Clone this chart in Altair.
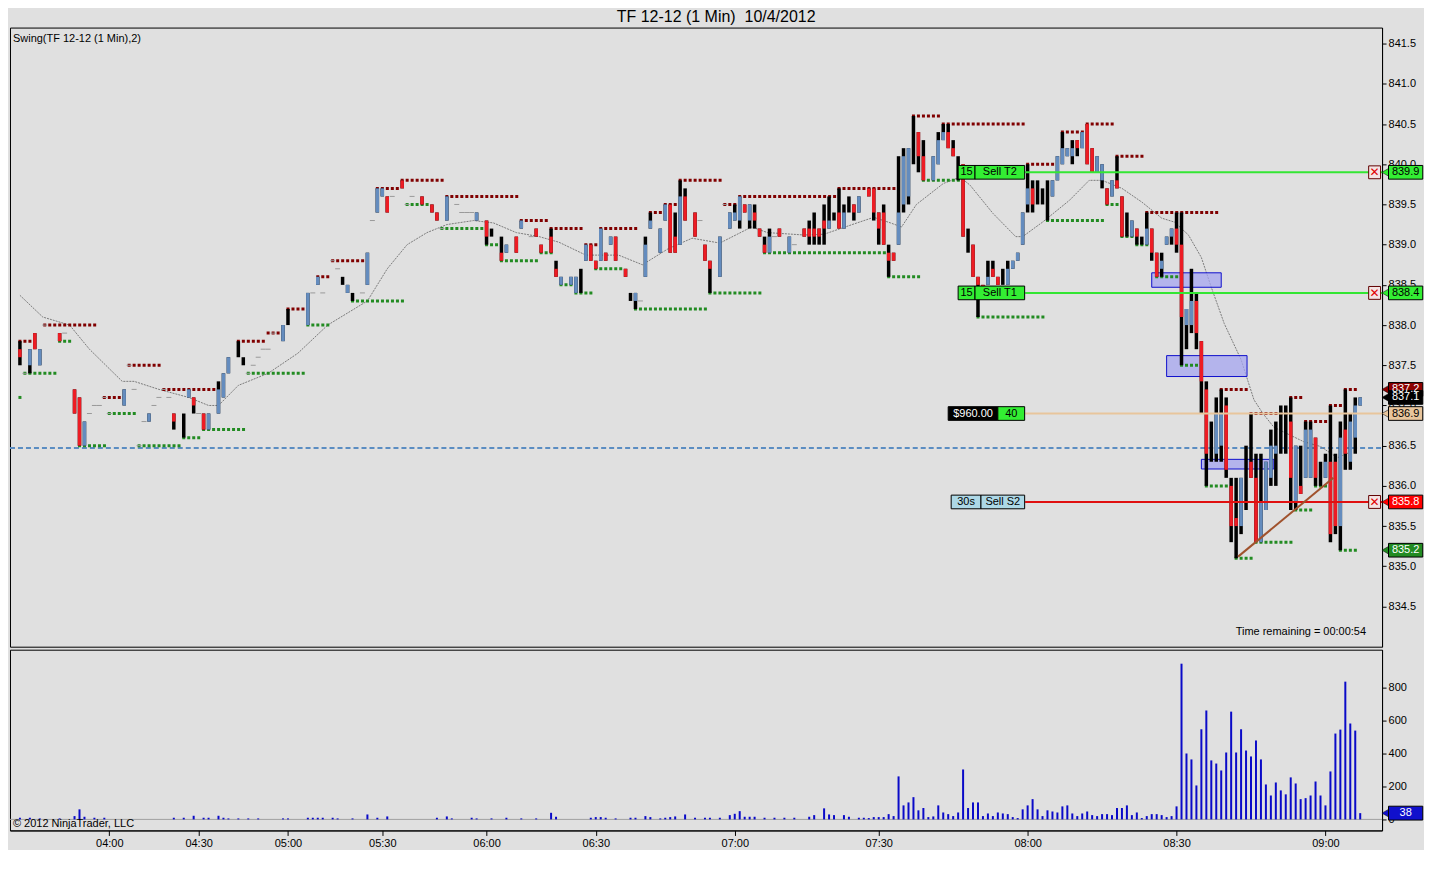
import altair as alt
import pandas as pd

# ---------------- data ----------------
# candles: (bar index, open, high, low, close)
bars_early = [
    (0, 837.7, 837.8, 837.5, 837.6), (2, 837.5, 837.7, 837.4, 837.7), (3, 837.9, 837.9, 837.7, 837.7),
    (4, 837.5, 837.7, 837.5, 837.7), (8, 837.9, 837.9, 837.8, 837.8), (11, 837.2, 837.2, 836.9, 836.9),
    (12, 837.1, 837.1, 836.5, 836.5), (13, 836.5, 836.8, 836.5, 836.8), (21, 837.0, 837.2, 837.0, 837.2),
    (26, 836.8, 836.9, 836.8, 836.9), (31, 836.9, 836.9, 836.7, 836.8), (33, 836.7, 836.9, 836.6, 836.7),
    (34, 837.1, 837.2, 837.1, 837.2), (35, 837.1, 837.1, 836.9, 837.0), (37, 836.9, 836.9, 836.7, 836.7),
    (38, 836.7, 836.9, 836.7, 836.9), (40, 836.9, 837.3, 836.9, 837.2), (41, 837.1, 837.4, 837.1, 837.4),
    (42, 837.4, 837.6, 837.4, 837.6), (44, 837.7, 837.8, 837.6, 837.7), (45, 837.5, 837.6, 837.5, 837.5),
    (53, 837.8, 838.0, 837.8, 838.0), (54, 838.1, 838.2, 838.0, 838.1), (58, 838.0, 838.4, 838.0, 838.4),
    (60, 838.5, 838.6, 838.5, 838.6),
]
bars_0530 = [
    (65, 838.6, 838.6, 838.5, 838.6), (66, 838.4, 838.5, 838.4, 838.5), (67, 838.4, 838.4, 838.3, 838.4),
    (70, 838.5, 838.9, 838.5, 838.9), (72, 839.4, 839.7, 839.4, 839.7), (73, 839.6, 839.7, 839.6, 839.7),
    (74, 839.6, 839.6, 839.4, 839.4), (77, 839.8, 839.8, 839.7, 839.7), (81, 839.6, 839.6, 839.5, 839.5),
    (83, 839.5, 839.5, 839.4, 839.4), (84, 839.4, 839.4, 839.3, 839.3), (86, 839.3, 839.6, 839.3, 839.6),
    (92, 839.3, 839.4, 839.3, 839.4), (94, 839.3, 839.3, 839.0, 839.1), (95, 839.2, 839.2, 839.1, 839.2),
    (97, 838.9, 839.1, 838.8, 838.8), (98, 838.9, 839.0, 838.9, 839.0), (100, 839.1, 839.1, 838.9, 838.9),
    (101, 839.2, 839.3, 839.2, 839.3), (104, 839.2, 839.2, 839.1, 839.1), (105, 839.0, 839.0, 838.9, 838.9),
    (107, 839.1, 839.2, 838.9, 838.9), (108, 838.7, 838.8, 838.6, 838.6), (109, 838.5, 838.6, 838.5, 838.6),
    (111, 838.5, 838.6, 838.5, 838.6), (112, 838.4, 838.6, 838.4, 838.6), (113, 838.5, 838.7, 838.4, 838.5),
    (114, 838.8, 839.0, 838.8, 839.0), (115, 839.0, 839.0, 838.8, 838.8), (116, 838.8, 838.8, 838.7, 838.7),
    (117, 838.8, 839.2, 838.8, 839.2), (118, 838.9, 838.9, 838.8, 838.8), (119, 839.0, 839.1, 839.0, 839.1),
    (120, 839.1, 839.1, 838.8, 838.8), (122, 838.7, 838.7, 838.6, 838.6), (123, 838.4, 838.4, 838.3, 838.4),
    (124, 838.3, 838.4, 838.2, 838.4),
]
bars_0700 = [
    (126, 838.6, 839.1, 838.6, 839.0), (127, 839.2, 839.4, 839.2, 839.3), (129, 838.9, 839.2, 838.9, 839.2),
    (130, 839.3, 839.5, 839.3, 839.5), (131, 839.5, 839.5, 838.9, 838.9), (132, 839.1, 839.4, 838.9, 838.9),
    (133, 839.0, 839.8, 839.0, 839.6), (134, 839.6, 839.7, 839.3, 839.3), (136, 839.4, 839.4, 839.1, 839.1),
    (138, 839.0, 839.0, 838.8, 838.8), (139, 838.8, 838.8, 838.4, 838.7), (141, 838.6, 839.1, 838.6, 839.1),
    (143, 839.2, 839.4, 839.2, 839.4), (144, 839.3, 839.5, 839.3, 839.4), (145, 839.3, 839.6, 839.2, 839.6),
    (146, 839.5, 839.5, 839.4, 839.4), (147, 839.3, 839.5, 839.2, 839.5), (148, 839.4, 839.5, 839.2, 839.3),
    (149, 839.2, 839.2, 839.1, 839.1), (150, 839.0, 839.1, 838.9, 838.9), (151, 838.9, 839.2, 838.9, 839.1),
    (153, 839.2, 839.2, 839.1, 839.1), (155, 838.9, 839.1, 838.9, 839.1), (158, 839.2, 839.2, 839.1, 839.1),
    (159, 839.2, 839.3, 839.0, 839.1), (160, 839.2, 839.4, 839.0, 839.1), (161, 839.2, 839.2, 839.0, 839.1),
    (162, 839.3, 839.5, 839.0, 839.2), (163, 839.2, 839.6, 839.2, 839.3), (164, 839.4, 839.4, 839.3, 839.4),
    (165, 839.4, 839.7, 839.2, 839.2), (166, 839.2, 839.5, 839.2, 839.4), (167, 839.5, 839.6, 839.4, 839.5),
    (168, 839.5, 839.5, 839.3, 839.4), (169, 839.4, 839.6, 839.4, 839.6), (171, 839.7, 839.7, 839.6, 839.6),
    (172, 839.7, 839.7, 839.3, 839.4), (173, 839.4, 839.4, 839.0, 839.2), (174, 839.4, 839.5, 839.0, 839.0),
    (175, 838.9, 839.0, 838.6, 838.8), (176, 838.9, 838.9, 838.8, 838.8), (177, 839.0, 840.1, 839.0, 839.4),
]
bars_0730 = [
    (178, 839.5, 840.2, 839.4, 840.1), (179, 839.6, 840.2, 839.5, 840.2), (180, 840.2, 840.6, 840.0, 840.2),
    (181, 840.4, 840.4, 839.9, 840.1), (182, 840.1, 840.3, 839.8, 839.8), (184, 839.8, 840.1, 839.8, 840.1),
    (185, 840.0, 840.4, 840.0, 840.3), (186, 840.3, 840.5, 840.3, 840.4), (187, 840.4, 840.5, 840.2, 840.2),
    (188, 840.2, 840.3, 840.1, 840.1), (189, 840.0, 840.1, 839.8, 840.0), (190, 840.0, 840.0, 839.1, 839.1),
    (191, 839.1, 839.2, 838.9, 839.1), (192, 839.0, 839.0, 838.6, 838.6), (193, 838.6, 838.6, 838.1, 838.5),
    (194, 838.5, 838.5, 838.4, 838.4), (195, 838.5, 838.8, 838.5, 838.6), (196, 838.7, 838.8, 838.6, 838.6),
    (197, 838.6, 838.6, 838.5, 838.5), (198, 838.6, 838.7, 838.5, 838.6), (199, 838.5, 838.8, 838.5, 838.7),
    (200, 838.7, 838.8, 838.7, 838.8), (201, 838.8, 838.9, 838.8, 838.9), (202, 839.0, 839.4, 839.0, 839.4),
    (203, 839.5, 840.0, 839.4, 839.7), (204, 839.7, 839.8, 839.4, 839.5), (205, 839.6, 839.8, 839.5, 839.6),
    (206, 839.6, 839.7, 839.5, 839.6), (207, 839.5, 839.8, 839.3, 839.5), (208, 839.6, 839.8, 839.6, 839.8),
    (209, 839.8, 840.1, 839.8, 840.1), (210, 840.0, 840.4, 840.0, 840.2), (211, 840.1, 840.2, 840.1, 840.2),
    (212, 840.1, 840.3, 840.0, 840.2), (213, 840.3, 840.3, 840.1, 840.2), (214, 840.2, 840.4, 840.2, 840.4),
    (215, 840.5, 840.5, 840.0, 840.0), (216, 840.2, 840.2, 839.9, 839.9), (217, 839.9, 840.1, 839.9, 840.1),
    (218, 839.8, 840.0, 839.7, 840.0), (219, 839.7, 839.7, 839.5, 839.5), (220, 839.6, 839.8, 839.6, 839.8),
    (221, 839.8, 840.1, 839.7, 839.7), (222, 839.6, 839.6, 839.1, 839.1), (223, 839.3, 839.4, 839.1, 839.3),
    (224, 839.1, 839.3, 839.1, 839.3), (225, 839.2, 839.2, 839.0, 839.1), (226, 839.1, 839.1, 839.0, 839.1),
    (227, 839.0, 839.4, 839.0, 839.2), (228, 839.2, 839.2, 838.8, 838.9), (229, 838.9, 838.9, 838.6, 838.6),
    (230, 838.7, 838.9, 838.6, 838.8), (231, 839.0, 839.1, 839.0, 839.1), (232, 839.1, 839.2, 839.0, 839.2),
    (233, 839.2, 839.4, 838.9, 839.0), (234, 839.0, 839.4, 837.5, 838.1), (235, 838.0, 838.2, 837.7, 838.2),
    (236, 838.0, 838.7, 837.9, 838.3), (237, 838.3, 838.4, 837.7, 837.9),
]
bars_0830 = [
    (238, 837.8, 837.8, 836.9, 837.3), (239, 837.2, 837.3, 836.0, 836.4), (240, 836.6, 836.8, 836.3, 836.6),
    (241, 836.4, 837.1, 836.3, 836.9), (242, 836.5, 837.2, 836.3, 836.9), (243, 837.0, 837.1, 836.1, 836.2),
    (244, 836.0, 836.1, 835.3, 835.5), (245, 835.6, 836.1, 835.1, 835.5), (246, 835.5, 836.1, 835.4, 836.1),
    (247, 836.0, 836.5, 835.7, 836.0), (248, 836.3, 836.9, 836.1, 836.1), (249, 836.1, 836.4, 835.3, 835.3),
    (250, 835.3, 836.4, 835.3, 835.8), (251, 835.7, 836.3, 835.7, 836.3), (252, 836.1, 836.7, 836.0, 836.5),
    (253, 836.4, 836.8, 836.0, 836.5), (254, 836.7, 837.0, 836.4, 836.7), (255, 836.7, 837.0, 836.4, 836.7),
    (256, 836.8, 837.1, 835.7, 836.1), (257, 835.8, 836.5, 835.7, 836.5), (258, 836.0, 836.5, 835.9, 835.9),
    (259, 836.1, 836.8, 836.1, 836.7), (260, 836.1, 836.8, 836.1, 836.7), (261, 836.6, 836.6, 836.0, 836.1),
    (262, 836.2, 836.3, 836.0, 836.2), (263, 836.1, 836.4, 836.1, 836.3), (264, 836.3, 837.0, 835.3, 835.4),
    (265, 836.3, 836.4, 835.4, 835.5), (266, 835.5, 836.8, 835.2, 836.6), (267, 836.7, 837.2, 836.2, 836.4),
    (268, 836.3, 836.9, 836.2, 836.8), (269, 836.6, 837.1, 836.4, 837.0), (270, 837.0, 837.1, 837.0, 837.1),
]
# single-price bars (open = high = low = close)
doji_bars = [
    (1, 837.4), (5, 838.0), (9, 837.9), (14, 836.9), (15, 837.0), (16, 837.0), (17, 837.1), (18, 836.9),
    (22, 837.5), (23, 837.2), (24, 836.5), (25, 836.8), (27, 837.0), (28, 837.1), (29, 837.2), (30, 837.1),
    (36, 836.9), (46, 837.4), (47, 837.5), (48, 837.6), (49, 837.7), (50, 837.7), (51, 837.9), (59, 838.4),
    (61, 838.4), (63, 838.8), (64, 838.7), (69, 838.4), (71, 839.3), (75, 839.6), (78, 839.5), (79, 839.6),
    (85, 839.2), (88, 839.5), (89, 839.4), (90, 839.4), (91, 839.4), (103, 839.1), (125, 838.3),
    (137, 839.3), (142, 839.5), (152, 839.1), (156, 839.0),
]
# Swing(2) indicator: (first bar, last bar, price)
swing_high = [
    (0, 2, 837.8), (5, 15, 838.0), (17, 21, 837.1), (22, 28, 837.5), (29, 39, 837.2), (44, 49, 837.8),
    (50, 52, 837.9), (54, 57, 838.2), (60, 62, 838.6), (63, 69, 838.8), (72, 76, 839.7), (77, 85, 839.8),
    (86, 100, 839.6), (101, 106, 839.3), (107, 113, 839.2), (114, 116, 839.0), (117, 124, 839.2),
    (127, 129, 839.4), (130, 132, 839.5), (133, 141, 839.8), (142, 144, 839.5), (145, 164, 839.6),
    (165, 176, 839.7), (180, 185, 840.6), (186, 202, 840.5), (203, 208, 840.0), (210, 214, 840.4),
    (215, 220, 840.5), (221, 226, 840.1), (227, 241, 839.4), (242, 247, 837.2), (248, 255, 836.9),
    (256, 258, 837.1), (259, 263, 836.8), (264, 266, 837.0), (267, 269, 837.2),
]
swing_low = [
    (0, 0, 837.1), (1, 7, 837.4), (8, 10, 837.8), (12, 17, 836.5), (18, 23, 836.9), (24, 32, 836.5),
    (33, 36, 836.6), (37, 45, 836.7), (46, 57, 837.4), (58, 62, 838.0), (67, 77, 838.3), (78, 82, 839.5),
    (85, 93, 839.2), (94, 96, 839.0), (97, 104, 838.8), (105, 107, 838.9), (109, 111, 838.5),
    (112, 115, 838.4), (116, 121, 838.7), (124, 138, 838.2), (139, 149, 838.4), (150, 174, 838.9),
    (175, 181, 838.6), (182, 189, 839.8), (193, 206, 838.1), (207, 218, 839.3), (219, 221, 839.5),
    (222, 224, 839.1), (225, 227, 839.0), (229, 233, 838.6), (234, 237, 837.5), (239, 243, 836.0),
    (245, 248, 835.1), (249, 256, 835.3), (257, 260, 835.7), (261, 264, 836.0), (266, 269, 835.2),
]
# moving average (gray line): (bar index, price)
avg_line = [
    (0, 838.37), (4.6, 838.1), (10, 838.0), (14, 837.7), (20.6, 837.3), (23, 837.3), (28, 837.2), (34, 837.1),
    (38, 837.0), (40, 837.0), (44, 837.25), (50, 837.4), (56, 837.65), (62, 838.0), (70, 838.3), (74, 838.7),
    (78, 839.0), (82, 839.15), (86, 839.25), (91.4, 839.3), (95.4, 839.27), (100, 839.15), (104.6, 839.1),
    (108.6, 839.03), (114, 838.87), (120.6, 838.87), (125.4, 838.75), (130.6, 838.95), (135.4, 839.08),
    (141, 839.02), (147.4, 839.22), (150.6, 839.15), (158, 839.12), (162, 839.13), (168.6, 839.27),
    (172, 839.34), (175.4, 839.27), (177.6, 839.22), (180.6, 839.5), (186, 839.76), (189.4, 839.84),
    (191.4, 839.74), (196, 839.39), (200.6, 839.1), (202, 839.1), (206, 839.28), (211.4, 839.55),
    (215.4, 839.8), (218, 839.8), (222, 839.7), (226, 839.53), (230, 839.33), (232.6, 839.28),
    (235.4, 839.12), (238, 838.84), (240, 838.47), (242.6, 838.02), (246, 837.57), (248.6, 837.07),
    (250.4, 836.9), (252.6, 836.73), (258.6, 836.55), (262, 836.49), (265.4, 836.35), (268, 836.42),
]
# volume: (bar index, contracts)
volume_early = [
    (0, 10), (2, 10), (4, 6), (8, 6), (11, 20), (12, 61), (13, 16), (15, 10), (17, 10), (31, 10), (33, 10),
    (35, 22), (37, 10), (38, 10), (40, 22), (41, 10), (42, 6), (44, 6), (46, 6), (48, 6), (53, 6), (54, 6),
    (58, 10), (59, 10), (60, 10), (61, 10), (63, 10), (64, 6), (67, 6), (70, 30), (72, 10), (74, 18),
    (84, 10), (86, 18), (87, 6), (91, 10), (92, 6), (95, 6), (98, 10), (101, 6), (104, 6), (107, 40),
    (108, 16), (115, 10), (116, 14), (117, 14), (118, 10), (120, 6), (123, 10), (124, 10), (126, 20),
    (127, 14), (129, 6), (130, 10), (131, 14), (132, 18), (134, 30), (136, 10), (138, 10), (139, 10),
    (141, 10), (143, 26), (144, 34), (145, 50), (146, 16), (147, 16), (148, 16), (150, 10), (152, 10),
    (154, 10), (156, 10), (159, 16), (160, 26), (162, 67), (163, 30), (164, 26), (166, 26), (167, 16),
    (169, 10), (170, 10),
]
volume_late = [
    (171, 8), (172, 14), (173, 14), (174, 14), (175, 32), (176, 20), (177, 261), (178, 85), (179, 103),
    (180, 135), (181, 55), (182, 69), (183, 14), (184, 18), (185, 85), (186, 42), (187, 32), (188, 20),
    (189, 42), (190, 303), (191, 69), (192, 103), (193, 103), (194, 20), (195, 36), (196, 20), (197, 42),
    (198, 36), (199, 32), (200, 14), (201, 8), (202, 61), (203, 85), (204, 123), (205, 61), (206, 20),
    (207, 55), (208, 48), (209, 42), (210, 79), (211, 85), (212, 36), (213, 20), (214, 36), (215, 48),
    (216, 26), (217, 20), (218, 32), (219, 32), (220, 26), (221, 69), (222, 69), (223, 85), (224, 26),
    (225, 42), (226, 8), (227, 20), (228, 32), (229, 32), (230, 26), (231, 14), (232, 20), (233, 79),
    (234, 945), (235, 400), (236, 364), (237, 206), (238, 547), (239, 661), (240, 358), (241, 339),
    (242, 297), (243, 406), (244, 654), (245, 406), (246, 547), (247, 418), (248, 382), (249, 479),
    (250, 364), (251, 212), (252, 145), (253, 224), (254, 176), (255, 152), (256, 255), (257, 218),
    (258, 123), (259, 129), (260, 145), (261, 230), (262, 145), (263, 85), (264, 291), (265, 521),
    (266, 545), (267, 836), (268, 582), (269, 539), (270, 38),
]
# time axis
tick_bars = [18, 36, 54, 73, 94, 116, 144, 173, 203, 233, 263]
tick_times = ["04:00", "04:30", "05:00", "05:30", "06:00", "06:30", "07:00", "07:30", "08:00", "08:30", "09:00"]
price_ticks = [834.5, 835.0, 835.5, 836.0, 836.5, 837.0, 837.5, 838.0, 838.5, 839.0, 839.5, 840.0, 840.5, 841.0, 841.5]
vol_ticks = [0, 200, 400, 600, 800]

# drawing objects on the chart
ref_line_price = 836.47
zones = [(228.0, 242.0, 838.47, 838.65), (231.0, 247.2, 837.36, 837.62), (238.0, 252.6, 836.21, 836.33)]
order_lines = [(202.5, 839.9, "#33E633"), (202.5, 838.4, "#33E633"), (202.5, 835.8, "#E01010"), (202.5, 836.9, "#E8C59C")]
trend_line = [(245.4, 835.12), (264.6, 836.1)]
order_boxes = [  # x1, x2, price, fill
    (189.0, 192.4, 839.9, "#33EE33"), (192.4, 202.4, 839.9, "#33EE33"),
    (189.0, 192.4, 838.4, "#33EE33"), (192.4, 202.4, 838.4, "#33EE33"),
    (187.6, 193.6, 835.8, "#ADD8E6"), (193.6, 202.4, 835.8, "#ADD8E6"),
    (187.0, 197.0, 836.9, "#000000"), (197.0, 202.4, 836.9, "#33EE33"),
]
order_texts = [  # x, price, text, color
    (190.7, 839.9, "15", "black"), (197.4, 839.9, "Sell T2", "black"),
    (190.7, 838.4, "15", "black"), (197.4, 838.4, "Sell T1", "black"),
    (190.6, 835.8, "30s", "black"), (198.0, 835.8, "Sell S2", "black"),
    (192.0, 836.9, "$960.00", "white"), (199.7, 836.9, "40", "black"),
]
cancel_marks = [839.9, 838.4, 835.8]
price_tags = [  # price, text, fill, text colour
    (839.9, "839.9", "#33EE33", "black"), (838.4, "838.4", "#33EE33", "black"),
    (837.2, "837.2", "#8B0000", "white"), (837.1, "837.1", "#000000", "white"),
    (836.9, "836.9", "#E8C59C", "black"), (835.8, "835.8", "#FF0000", "white"),
    (835.2, "835.2", "#228B22", "white"),
]
vol_tag = (38, "38")

# ---------------- build tables ----------------
FONT = "Liberation Sans"
W, H1, H2 = 1374, 620, 181
X_DOM = [-2, 274.4]
TAG_X1, TAG_X2, TAG_TIP = 275.7, 282.6, 275.2
RED, BLUE = "#ED1C24", "#648CBE"
HI_COL, LO_COL = "#800000", "#228B22"

bars = pd.DataFrame(bars_early + bars_0530 + bars_0700 + bars_0730 + bars_0830,
                    columns=["i", "o", "h", "l", "c"])
bodies = bars[bars.o != bars.c].copy()
bodies["col"] = [BLUE if c > o else RED for o, c in zip(bodies.o, bodies.c)]
dojis = pd.DataFrame(doji_bars, columns=["i", "p"])
dojis["i1"] = dojis.i - 0.5
dojis["i2"] = dojis.i + 0.5
sw = pd.DataFrame([(a - 0.3, b + 0.5, p, HI_COL) for a, b, p in swing_high] +
                  [(a - 0.3, b + 0.5, p, LO_COL) for a, b, p in swing_low], columns=["a", "b", "p", "col"])
avg = pd.DataFrame(avg_line, columns=["i", "p"])
vol = pd.DataFrame(volume_early + volume_late, columns=["i", "v"])
vol["z"] = 0
zone_df = pd.DataFrame(zones, columns=["a", "b", "p1", "p2"])
ol = pd.DataFrame(order_lines, columns=["a", "p", "col"])
ol["b"] = X_DOM[1]
trend = pd.DataFrame(trend_line, columns=["i", "p"])
HALF = 0.085
ob = pd.DataFrame(order_boxes, columns=["a", "b", "p", "fill"])
ob["p1"] = ob.p - HALF
ob["p2"] = ob.p + HALF
ot = pd.DataFrame(order_texts, columns=["i", "p", "t", "col"])
cm = pd.DataFrame({"p": cancel_marks})
cm["a"], cm["b"], cm["m"] = 271.7, 274.1, 272.9
cm["p1"], cm["p2"] = cm.p - 0.08, cm.p + 0.08
tags = pd.DataFrame(price_tags, columns=["p", "t", "fill", "tc"])
tags["order"] = range(len(tags))
tags["a"], tags["b"], tags["m"], tags["tip"] = TAG_X1, TAG_X2, (TAG_X1 + TAG_X2) / 2, TAG_TIP
tags["p1"], tags["p2"] = tags.p - 0.085, tags.p + 0.085
vt = pd.DataFrame({"v": [vol_tag[0]], "t": [vol_tag[1]]})
vt["a"], vt["b"], vt["m"], vt["tip"] = TAG_X1, TAG_X2, (TAG_X1 + TAG_X2) / 2, TAG_TIP
vt["v1"], vt["v2"] = vt.v - 42, vt.v + 42

# ---------------- encodings ----------------
xs = alt.Scale(domain=X_DOM, nice=False, zero=False)
ys = alt.Scale(domain=[834.0, 841.7], nice=False, zero=False)
vs = alt.Scale(domain=[-67, 1030], nice=False, zero=False)
yax = alt.Axis(orient="right", values=price_ticks, format=".1f", title=None, grid=False,
               tickSize=4, tickColor="black", domainColor="black", labelColor="black",
               labelFontSize=11, labelFont=FONT, labelPadding=2)
vax = alt.Axis(orient="right", values=vol_ticks, format="d", title=None, grid=False,
               tickSize=4, tickColor="black", domainColor="black", labelColor="black",
               labelFontSize=11, labelFont=FONT, labelPadding=2)
label_expr = "[" + ",".join("'%s'" % t for t in tick_times) + "][indexof([" + \
             ",".join(str(b) for b in tick_bars) + "], datum.value)]"
tax = alt.Axis(values=tick_bars, labelExpr=label_expr, title=None, grid=False, tickSize=5,
               tickColor="black", domainColor="black", labelColor="black", labelFontSize=11,
               labelFont=FONT, labelPadding=2)


def PX(f):
    return alt.X(f, type="quantitative", scale=xs, axis=None)


def PY(f):
    return alt.Y(f, type="quantitative", scale=ys, axis=yax)


def VX(f):
    return alt.X(f, type="quantitative", scale=xs, axis=tax)


def VY(f):
    return alt.Y(f, type="quantitative", scale=vs, axis=vax)


def COL(f):
    return alt.Color(f, type="nominal", scale=None)


def FILL(f):
    return alt.Fill(f, type="nominal", scale=None)


# ---------------- price panel ----------------
ref_df = pd.DataFrame({"p": [ref_line_price], "a": [X_DOM[0]], "b": [X_DOM[1]]})
l_ref = alt.Chart(ref_df).mark_rule(color="#5B8DC2", strokeWidth=2, strokeDash=[5, 3]).encode(
    x=PX("a"), x2="b", y=PY("p"))
l_avg = alt.Chart(avg).mark_line(color="#7A7A7A", strokeWidth=1, strokeDash=[2, 1]).encode(
    x=PX("i"), y=PY("p"))
l_zone = alt.Chart(zone_df).mark_rect(fill="#A6A6F0", fillOpacity=0.75, stroke="#1010CC", strokeWidth=1).encode(
    x=PX("a"), x2="b", y=PY("p1"), y2="p2")
l_sw = alt.Chart(sw).mark_rule(strokeWidth=3, strokeDash=[3, 2]).encode(
    x=PX("a"), x2="b", y=PY("p"), color=COL("col"))
l_doji = alt.Chart(dojis).mark_rule(color="#9A9A9A", strokeWidth=1).encode(x=PX("i1"), x2="i2", y=PY("p"))
l_wick = alt.Chart(bars).mark_rule(color="black", strokeWidth=3.5).encode(x=PX("i"), y=PY("l"), y2="h")
l_body = alt.Chart(bodies).mark_rule(strokeWidth=3.5).encode(
    x=PX("i"), y=PY("o"), y2="c", color=COL("col"))
l_ol = alt.Chart(ol).mark_rule(strokeWidth=2).encode(
    x=PX("a"), x2="b", y=PY("p"), color=COL("col"))
l_trend = alt.Chart(trend).mark_line(color="#A0522D", strokeWidth=2).encode(x=PX("i"), y=PY("p"))
l_ob = alt.Chart(ob).mark_rect(stroke="black", strokeWidth=1).encode(
    x=PX("a"), x2="b", y=PY("p1"), y2="p2", fill=FILL("fill"))
l_ot = alt.Chart(ot).mark_text(fontSize=11, font=FONT).encode(
    x=PX("i"), y=PY("p"), text="t:N", color=COL("col"))
l_cmr = alt.Chart(cm).mark_rect(fill="#F4E4E4", stroke="#600000", strokeWidth=1).encode(
    x=PX("a"), x2="b", y=PY("p1"), y2="p2")
l_cmt = alt.Chart(cm).mark_text(text="✕", fontSize=12, fontWeight="bold", color="#E00000",
                                 font="DejaVu Sans").encode(x=PX("m"), y=PY("p"))
l_tagtip = alt.Chart(tags).mark_point(shape="triangle-left", filled=True, size=90, opacity=1,
                                       stroke="black", strokeWidth=0.5).encode(
    x=PX("tip"), y=PY("p"), fill=FILL("fill"), order="order:Q")
l_tagbox = alt.Chart(tags).mark_rect(stroke="black", strokeWidth=1).encode(
    x=PX("a"), x2="b", y=PY("p1"), y2="p2", fill=FILL("fill"), order="order:Q")
l_tagtxt = alt.Chart(tags).mark_text(fontSize=11, font=FONT).encode(
    x=PX("m"), y=PY("p"), text="t:N", color=COL("tc"), order="order:Q")
l_t1 = alt.Chart(ref_df).mark_text(text="Swing(TF 12-12 (1 Min),2)", align="left", baseline="middle",
                                    fontSize=11, font=FONT, color="black").encode(
    x=alt.value(3), y=alt.value(11))
l_t2 = alt.Chart(ref_df).mark_text(text="Time remaining = 00:00:54", align="right", baseline="middle",
                                    fontSize=11, font=FONT, color="black").encode(
    x=alt.value(W - 16), y=alt.value(605))

price = alt.layer(
    l_ref, l_avg, l_zone, l_sw, l_doji, l_wick, l_body, l_ol, l_trend, l_ob, l_ot,
    l_cmr, l_cmt, l_tagtip, l_tagbox, l_tagtxt, l_t1, l_t2
).properties(width=W, height=H1)

# ---------------- volume panel ----------------
zero_df = pd.DataFrame({"z0": [0], "a": [X_DOM[0]], "b": [X_DOM[1]]})
v_zero = alt.Chart(zero_df).mark_rule(color="#A0A0A0", strokeWidth=1).encode(
    x=VX("a"), x2="b", y=VY("z0"))
v_bars = alt.Chart(vol).mark_rule(color="#0A0AC8", strokeWidth=2).encode(x=VX("i"), y=VY("z"), y2="v")
v_tip = alt.Chart(vt).mark_point(shape="triangle-left", filled=True, size=90, opacity=1,
                                  fill="#1010CC", stroke="black", strokeWidth=0.5).encode(x=VX("tip"), y=VY("v"))
v_box = alt.Chart(vt).mark_rect(fill="#1010CC", stroke="black", strokeWidth=1).encode(
    x=VX("a"), x2="b", y=VY("v1"), y2="v2")
v_txt = alt.Chart(vt).mark_text(fontSize=11, font=FONT, color="white").encode(x=VX("m"), y=VY("v"), text="t:N")
v_copy = alt.Chart(zero_df).mark_text(text="© 2012 NinjaTrader, LLC", align="left", baseline="middle",
                                       fontSize=11, font=FONT, color="black").encode(
    x=alt.value(3), y=alt.value(175))

volume = alt.layer(v_zero, v_bars, v_tip, v_box, v_txt, v_copy).properties(width=W, height=H2)

chart = alt.vconcat(price, volume, spacing=1).properties(
    title=alt.TitleParams("TF 12-12 (1 Min)\u00a0 10/4/2012", fontSize=16, fontWeight="normal",
                          anchor="middle", color="black", font=FONT, offset=2),
    padding=0,
).configure(background="#E0E0E0", font=FONT).configure_view(
    stroke="black", strokeWidth=1, fill="#E0E0E0")

chart.save("out.html", embed_options={"renderer": "svg", "actions": False})
